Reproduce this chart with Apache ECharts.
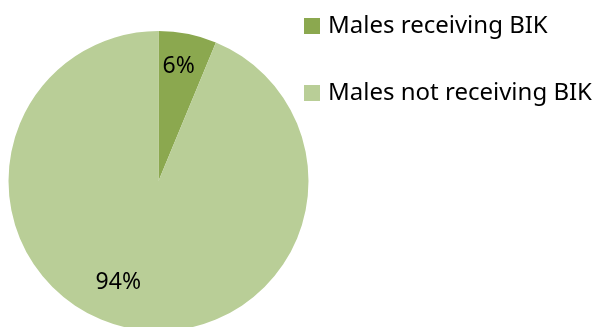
<!DOCTYPE html>
<html>
<head>
<meta charset="utf-8">
<script src="https://cdn.jsdelivr.net/npm/echarts@6/dist/echarts.min.js"></script>
<style>
  html, body { margin: 0; padding: 0; background: #fff; }
</style>
</head>
<body>
<div id="echarts" style="width: 598px; height: 327px"></div>
<script>
// data (angle of the small slice is ~22.5 deg)
const categories = ['Males receiving BIK', 'Males not receiving BIK'];
const values = [6.25, 93.75];
const colors = ['#8ba84f', '#b9ce97'];

// nudge the inside labels to where the original puts them
const labelShift = [[5, -38], [-25, 25]];

let myChart = echarts.init(document.getElementById('echarts'));

myChart.setOption({
  textStyle: { fontFamily: 'Noto Sans' },
  legend: {
    orient: 'vertical',
    left: 304,
    top: 14,
    padding: 0,
    itemWidth: 16,
    itemHeight: 16,
    itemGap: 43,
    icon: 'rect',
    textStyle: {
      color: '#000',
      fontSize: 24,
      lineHeight: 16,
      fontFamily: 'Noto Sans',
      padding: [0, 0, 0, 3]
    },
    data: categories
  },
  series: [
    {
      type: 'pie',
      center: [158.5, 181],
      radius: 150,
      startAngle: 90,
      clockwise: true,
      silent: true,
      percentPrecision: 0,
      label: {
        position: 'inside',
        formatter: '{d}%',
        color: '#000',
        fontSize: 23,
        fontFamily: 'Noto Sans'
      },
      labelLine: { show: false },
      labelLayout: function (params) {
        const s = labelShift[params.dataIndex];
        return { dx: s[0], dy: s[1] };
      },
      itemStyle: { borderWidth: 0 },
      data: categories.map((name, i) => ({
        name: name,
        value: values[i],
        itemStyle: { color: colors[i] }
      }))
    }
  ]
});
</script>
</body>
</html>
